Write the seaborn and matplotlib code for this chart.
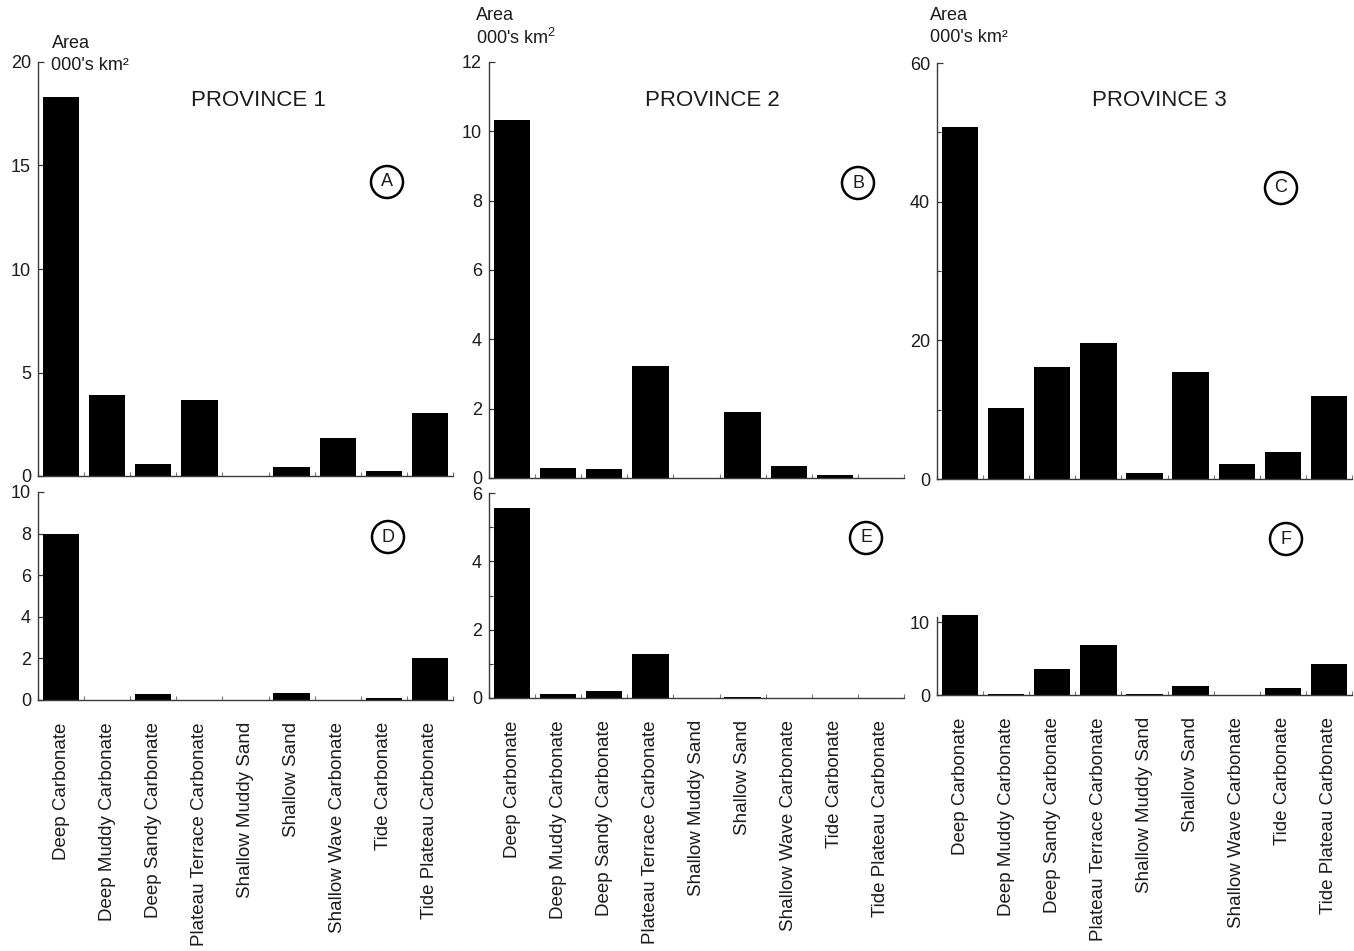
import numpy as np
import pandas as pd
import matplotlib
matplotlib.use("Agg")
import matplotlib.pyplot as plt
from matplotlib.patches import Ellipse
import seaborn as sns

# Facies classes shared by every panel
categories = [
    "Deep Carbonate", "Deep Muddy Carbonate", "Deep Sandy Carbonate",
    "Plateau Terrace Carbonate", "Shallow Muddy Sand", "Shallow Sand",
    "Shallow Wave Carbonate", "Tide Carbonate", "Tide Plateau Carbonate",
]

# Area (000's km2) per facies, upper row
province1_upper = [18.3, 3.9, 0.56, 3.65, 0.0, 0.45, 1.85, 0.26, 3.03]
province2_upper = [10.33, 0.28, 0.25, 3.24, 0.0, 1.9, 0.36, 0.09, 0.0]
province3_upper = [50.7, 10.3, 16.1, 19.6, 0.8, 15.4, 2.1, 3.85, 12.0]

# Area (000's km2) per facies, lower row
province1_lower = [8.0, 0.0, 0.29, 0.0, 0.0, 0.35, 0.0, 0.08, 2.03]
province2_lower = [5.55, 0.12, 0.2, 1.29, 0.0, 0.03, 0.01, 0.01, 0.0]
province3_lower = [11.0, 0.1, 3.5, 6.85, 0.1, 1.23, 0.0, 0.92, 4.2]

province_titles = ["PROVINCE 1", "PROVINCE 2", "PROVINCE 3"]
panel_letters = ["A", "B", "C", "D", "E", "F"]

sns.set_style("ticks")
plt.rcParams["font.family"] = ["Liberation Sans", "DejaVu Sans"]
plt.rcParams["mathtext.fontset"] = "custom"
plt.rcParams["mathtext.rm"] = "Liberation Sans"
plt.rcParams["mathtext.it"] = "Liberation Sans:italic"

W, H = 1354, 951
fig = plt.figure(figsize=(W / 100, H / 100), dpi=100)
fig.patch.set_facecolor("white")

INK = "#1c1c1c"
SPINE = "#3a3a3a"


def add_axes_px(x0, y0, x1, y1):
    return fig.add_axes([x0 / W, 1 - y1 / H, (x1 - x0) / W, (y1 - y0) / H])


def fx(x):
    return x / W


def fy(y):
    return 1 - y / H


panels = [
    # values, axes box (px), y limits, major ticks, minor ticks, bottom row?
    (province1_upper, (38, 62, 453, 476), (0, 20), [0, 5, 10, 15, 20], [], False),
    (province2_upper, (489, 62, 904, 478), (0, 12), [0, 2, 4, 6, 8, 10, 12], [], False),
    (province3_upper, (937, 63, 1352, 479), (0, 60), [0, 20, 40, 60], [10, 30, 50], False),
    (province1_lower, (38, 492, 453, 700), (0, 10), [0, 2, 4, 6, 8, 10], [], True),
    (province2_lower, (489, 493, 904, 698), (0, 6), [0, 2, 4, 6], [1, 3, 5], True),
    (province3_lower, (937, 493, 1352, 695), (0, 27.7), [0, 10], [], True),
]

axes = []
for vals, box, ylim, major, minor, bottom in panels:
    ax = add_axes_px(*box)
    df = pd.DataFrame({"facies": categories, "area": vals})
    sns.barplot(data=df, x="facies", y="area", order=categories, ax=ax,
                color="black", saturation=1, width=0.79, linewidth=0)
    ax.set_xlim(-0.5, len(categories) - 0.5)
    ax.set_ylim(*ylim)
    ax.set_yticks(major)
    ax.set_yticks(minor, minor=True)
    ax.set_yticklabels([str(t) for t in major])
    ax.set_xlabel("")
    ax.set_ylabel("")
    ax.set_facecolor("white")
    for side in ("top", "right"):
        ax.spines[side].set_visible(False)
    for side in ("left", "bottom"):
        ax.spines[side].set_linewidth(1.0)
        ax.spines[side].set_color(SPINE)
    ax.tick_params(axis="y", which="major", direction="in", length=4, width=0.9,
                   color=SPINE, labelsize=13, labelcolor=INK, pad=5)
    ax.tick_params(axis="y", which="minor", direction="in", length=3, width=0.8,
                   color=SPINE)
    ax.set_xticks(np.arange(len(categories) + 1) - 0.5, minor=True)
    ax.tick_params(axis="x", which="minor", direction="in", length=3, width=0.8,
                   color="#777777")
    ax.set_xticks(range(len(categories)))
    if bottom:
        ax.set_xticklabels(categories, rotation=90)
        ax.tick_params(axis="x", which="major", length=0, labelsize=13.5,
                       labelcolor=INK, pad=16)
    else:
        ax.set_xticklabels([])
        ax.tick_params(axis="x", which="major", length=0)
    axes.append(ax)

# The lower right panel only carries its axis line up to the labelled range
axes[5].spines["left"].set_bounds(0, 10.7)

# Province headings
for title, (x, y) in zip(province_titles, [(258, 101), (712, 100), (1159, 100)]):
    fig.text(fx(x), fy(y), title, ha="center", va="center", fontsize=16, color=INK)

# Unit labels
unit_pos = [(52, 44, 51, 66), (476, 16, 476, 38), (930, 16, 930, 38)]
for i, (xa, ya, xb, yb) in enumerate(unit_pos):
    fig.text(fx(xa), fy(ya), "Area", ha="left", va="center", fontsize=13, color=INK)
    unit = "000's km$^{\\mathregular{2}}$" if i == 1 else "000's km²"
    fig.text(fx(xb), fy(yb), unit, ha="left", va="center", fontsize=13, color=INK)

# Circled panel letters
letter_pos = [(387, 182), (858, 183), (1281, 188), (388, 537), (866, 538), (1286, 539)]
for letter, (x, y) in zip(panel_letters, letter_pos):
    fig.add_artist(Ellipse((fx(x), fy(y)), 32 / W, 32 / H, transform=fig.transFigure,
                           fill=False, lw=1.8, ec="black"))
    fig.text(fx(x), fy(y), letter, ha="center", va="center", fontsize=13, color=INK)

fig.savefig("out.png", dpi=100, facecolor="white")
